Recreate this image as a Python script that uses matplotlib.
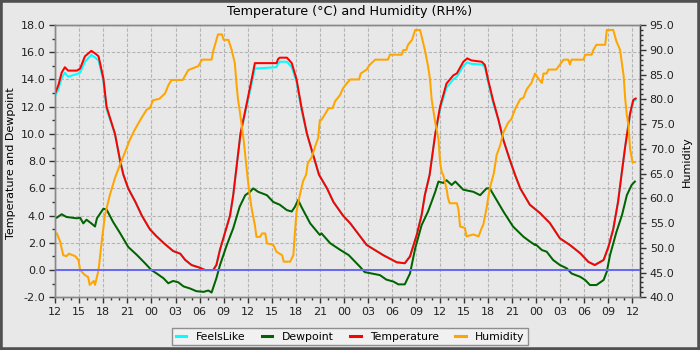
import matplotlib
matplotlib.use("Agg")
import matplotlib.pyplot as plt
from matplotlib.ticker import MultipleLocator, FuncFormatter
from matplotlib.patches import Rectangle

# hours since 12:00 on the first day
temp_hours = [0.0, 0.4, 0.8, 1.2, 1.6, 2.7, 3.1, 3.7, 4.5, 5.0, 5.4, 6.0, 6.4, 7.45, 8.1, 8.5,
              9.1, 10.0, 10.8, 11.8, 12.6, 13.5, 14.7, 15.6, 16.2, 17.0, 17.9, 18.7, 19.7, 20.1,
              20.55, 21.05, 21.8, 22.2, 22.7, 23.1, 23.8, 24.5, 24.9, 27.6, 27.8, 28.0, 28.9, 29.5,
              30.1, 30.7, 31.4, 32.4, 32.9, 33.9, 34.7, 35.9, 36.8, 38.85, 40.9, 42.6, 43.6, 44.25,
              45.1, 45.7, 46.1, 46.7, 47.4, 48.0, 48.8, 49.65, 50.1, 50.9, 51.4, 51.9, 53.2, 53.6,
              54.0, 54.6, 55.3, 55.9, 56.7, 57.35, 58.0, 59.2, 60.5, 61.7, 62.95, 64.2, 65.5, 66.5,
              67.3, 68.4, 69.0, 69.6, 70.2, 70.7, 71.1, 71.7, 72.1, 72.4]
temperature = [13.0, 13.6, 14.5, 14.9, 14.65, 14.65, 14.8, 15.7, 16.1, 15.9, 15.7, 14.1, 12.0, 10.0, 8.0, 7.0,
               6.0, 5.0, 4.0, 3.0, 2.5, 2.0, 1.4, 1.2, 0.75, 0.37, 0.2, 0.0, 0.0, 0.37,
               1.5, 2.5, 4.0, 5.5, 8.0, 10.0, 12.0, 14.0, 15.2, 15.2, 15.5, 15.6, 15.6, 15.2,
               14.0, 12.0, 10.0, 8.0, 7.0, 6.0, 5.0, 4.0, 3.43, 1.84, 1.1, 0.57, 0.5, 1.0,
               2.6, 4.05, 5.5, 7.0, 10.0, 12.0, 13.7, 14.3, 14.45, 15.3, 15.55, 15.4, 15.3, 15.06,
               13.96, 12.5, 11.0, 9.55, 8.1, 7.0, 6.0, 4.8, 4.17, 3.45, 2.33, 1.84, 1.23, 0.6,
               0.37, 0.74, 1.7, 3.0, 5.0, 7.3, 9.1, 11.5, 12.5, 12.6]
feelslike = [12.8, 13.3, 14.1, 14.5, 14.2, 14.4, 14.5, 15.3, 15.8, 15.6, 15.4, 13.9, 11.8, 10.0, 8.0, 7.0,
             6.0, 5.0, 4.0, 3.0, 2.5, 2.0, 1.4, 1.2, 0.75, 0.37, 0.2, 0.0, 0.0, 0.37,
             1.5, 2.5, 4.0, 5.5, 8.0, 10.0, 11.8, 13.7, 14.8, 14.9, 15.2, 15.3, 15.3, 14.9,
             13.8, 11.8, 10.0, 8.0, 7.0, 6.0, 5.0, 4.0, 3.43, 1.84, 1.1, 0.57, 0.5, 1.0,
             2.6, 4.05, 5.5, 7.0, 10.0, 11.8, 13.4, 14.0, 14.2, 15.0, 15.25, 15.15, 15.1, 14.9,
             13.8, 12.3, 11.0, 9.55, 8.1, 7.0, 6.0, 4.8, 4.17, 3.45, 2.33, 1.84, 1.23, 0.6,
             0.37, 0.74, 1.7, 3.0, 5.0, 7.3, 9.1, 11.4, 12.4, 12.5]

dew_hours = [0.2, 0.8, 1.4, 2.7, 3.1, 3.5, 3.9, 4.5, 4.96, 5.2, 6.0, 6.4, 7.2, 8.1, 9.1, 10.2, 11.2,
             12.0, 12.65, 13.5, 14.1, 14.7, 15.35, 16.0, 16.8, 17.6, 18.5, 19.1, 19.5, 20.1, 20.55,
             21.4, 22.2, 23.0, 23.7, 24.3, 24.7, 25.3, 26.4, 27.2, 28.0, 28.9, 29.5, 29.9, 30.3,
             30.7, 31.8, 33.0, 33.2, 34.3, 35.5, 36.6, 38.0, 38.6, 40.5, 41.3, 42.2, 42.8, 43.6,
             44.25, 44.9, 45.7, 46.5, 47.4, 47.8, 48.4, 48.8, 49.45, 49.9, 50.9, 52.15, 53.0, 53.8,
             54.2, 55.05, 55.9, 57.1, 58.4, 59.2, 59.85, 59.9, 60.7, 61.3, 62.1, 62.95, 63.8, 64.4,
             65.5, 66.1, 66.7, 67.5, 68.4, 68.8, 69.2, 70.0, 70.7, 71.3, 71.9, 72.3]
dewpoint = [3.85, 4.1, 3.9, 3.8, 3.85, 3.43, 3.7, 3.43, 3.2, 3.8, 4.5, 4.45, 3.55, 2.7, 1.7, 1.1, 0.5,
            0.0, -0.25, -0.6, -0.97, -0.8, -0.9, -1.2, -1.35, -1.55, -1.6, -1.5, -1.65, -0.6, 0.37,
            1.84, 3.07, 4.65, 5.5, 5.75, 6.0, 5.75, 5.5, 5.0, 4.8, 4.4, 4.3, 4.65, 5.15,
            4.65, 3.43, 2.58, 2.7, 1.97, 1.5, 1.1, 0.25, -0.15, -0.37, -0.7, -0.85, -1.05, -1.05,
            -0.25, 1.6, 3.3, 4.3, 5.75, 6.5, 6.4, 6.6, 6.25, 6.5, 5.9, 5.75, 5.5, 6.0,
            6.0, 5.15, 4.3, 3.2, 2.45, 2.1, 1.84, 1.9, 1.47, 1.35, 0.74, 0.37, 0.13, -0.25,
            -0.5, -0.73, -1.1, -1.1, -0.73, -0.12, 1.1, 2.8, 4.05, 5.5, 6.25, 6.5]

hum_hours = [0.2, 0.6, 1.0, 1.4, 1.7, 2.5, 2.9, 3.1, 3.7, 4.1, 4.3, 4.8, 4.96, 5.4, 5.8, 6.2, 6.8,
             7.45, 8.1, 8.7, 9.3, 9.9, 10.6, 11.4, 11.8, 12.2, 13.0, 13.7, 14.1, 14.5, 15.9, 16.6,
             17.85, 18.3, 19.5, 19.7, 20.3, 20.8, 21.0, 21.6, 22.0, 22.4, 22.6, 22.8, 23.0, 23.5,
             23.8, 23.95, 24.2, 24.5, 24.9, 25.1, 25.55, 25.8, 26.2, 26.4, 27.2, 27.6, 28.3, 28.5,
             29.3, 29.7, 29.9, 30.1, 30.5, 30.9, 31.3, 31.5, 32.0, 32.4, 32.8, 33.0, 33.2, 34.1,
             34.6, 34.9, 35.5, 35.9, 36.35, 36.8, 37.9, 38.1, 38.85, 39.2, 39.9, 41.5, 41.75, 43.2,
             43.4, 43.8, 44.0, 44.5, 44.9, 45.5, 45.7, 46.1, 46.5, 46.75, 46.95, 47.4, 47.8, 48.0,
             48.2, 48.4, 48.8, 49.0, 49.2, 50.1, 50.3, 50.5, 51.1, 51.3, 52.15, 52.8, 53.2, 53.4,
             53.8, 54.2, 54.7, 55.05, 55.5, 55.9, 56.5, 56.9, 57.35, 58.0, 58.4, 58.8, 59.4, 59.85,
             60.3, 60.7, 60.9, 61.3, 61.5, 62.5, 62.95, 63.4, 64.0, 64.2, 64.4, 65.9, 66.1, 66.9,
             67.1, 67.5, 68.6, 68.8, 69.6, 70.0, 70.45, 70.9, 71.1, 71.3, 71.5, 71.7, 72.0, 72.3]
humidity = [52.9, 51.3, 48.5, 48.3, 48.8, 48.3, 47.5, 45.5, 44.5, 44.1, 42.5, 43.3, 42.5, 45.5, 51.3, 56.6, 60.6,
            64.1, 66.9, 69.3, 71.8, 73.8, 75.8, 77.9, 78.2, 79.8, 80.1, 81.2, 82.8, 83.9, 83.9, 85.9,
            86.7, 88.0, 88.0, 89.7, 93.1, 93.1, 92.0, 92.0, 90.0, 87.3, 83.2, 79.9, 77.8, 71.8,
            67.1, 64.8, 61.3, 57.9, 54.6, 52.2, 52.2, 52.9, 52.9, 50.9, 50.6, 49.2, 48.5, 47.2,
            47.2, 48.5, 53.2, 57.3, 60.6, 63.4, 64.8, 67.1, 68.3, 70.4, 72.2, 75.8, 75.8, 78.2,
            78.2, 79.6, 80.8, 82.2, 83.2, 84.0, 84.0, 85.2, 86.0, 86.9, 88.0, 88.0, 89.0, 89.0,
            89.9, 90.0, 91.0, 92.0, 94.0, 94.0, 92.7, 90.0, 86.7, 84.0, 80.0, 75.3, 72.0, 67.3,
            65.3, 64.7, 62.0, 60.0, 59.0, 59.0, 57.7, 54.3, 54.0, 52.3, 52.7, 52.3, 54.0, 54.7,
            58.0, 62.0, 65.0, 68.7, 70.7, 73.3, 75.3, 76.0, 78.0, 80.0, 80.3, 82.0, 83.3, 85.2,
            84.1, 83.3, 85.2, 85.2, 86.0, 86.0, 87.0, 88.0, 88.0, 87.0, 88.0, 88.0, 89.0, 89.0,
            89.9, 91.0, 91.0, 94.0, 94.0, 91.7, 90.0, 84.7, 80.0, 76.7, 74.7, 70.0, 67.3, 67.3]

BG = '#e8e8e8'
LW = 1.45

fig = plt.figure(figsize=(7, 3.5), dpi=100, facecolor=BG)
ax = fig.add_axes([55.25 / 700, 1 - 297.3 / 350, (640 - 55.25) / 700, (297.3 - 25) / 350])
ax.set_facecolor(BG)
ax2 = ax.twinx()

ax.plot(temp_hours, feelslike, color='#00ffff', lw=LW, zorder=3)
ax.plot(dew_hours, dewpoint, color='#006400', lw=LW, zorder=3)
ax.plot(temp_hours, temperature, color='#ff0000', lw=LW, zorder=4)
ax2.plot(hum_hours, humidity, color='#ffa500', lw=LW, zorder=2)
ax2.axhline(45.5, color='#6a6af2', lw=LW, zorder=5)

ax.set_xlim(0, 72.94)
ax.set_ylim(-2, 18)
ax2.set_ylim(40, 95)

ax.xaxis.set_major_locator(MultipleLocator(3))
ax.xaxis.set_minor_locator(MultipleLocator(1))
ax.xaxis.set_major_formatter(FuncFormatter(lambda v, p: "%02d" % ((12 + int(round(v))) % 24)))
ax.yaxis.set_major_locator(MultipleLocator(2))
ax.yaxis.set_minor_locator(MultipleLocator(1))
ax.yaxis.set_major_formatter(FuncFormatter(lambda v, p: "%.1f" % v))
ax2.yaxis.set_major_locator(MultipleLocator(5))
ax2.yaxis.set_minor_locator(MultipleLocator(1))
ax2.yaxis.set_major_formatter(FuncFormatter(lambda v, p: "%.1f" % v))

ax.grid(True, which='major', color='#b4b4b4', linestyle=(0, (3, 1.6)), linewidth=0.8)
ax.set_axisbelow(True)

for a in (ax, ax2):
    for s in a.spines.values():
        s.set_color('#888888')
        s.set_linewidth(1)
    a.tick_params(which='major', length=4, width=1, color='#333333', labelsize=8, labelcolor='#222222', pad=3)
    a.tick_params(which='minor', length=2, width=1, color='#333333')
ax2.spines['right'].set_color('#333333')

ax.set_ylabel("Temperature and Dewpoint", fontsize=8)
ax.yaxis.set_label_coords((16 - 55.25) / 584.75, 0.493)
ax2.set_ylabel("Humidity", fontsize=8)
ax2.yaxis.set_label_coords((682 - 55.25) / 584.75, 0.497)
fig.text(350 / 700, 1 - 12 / 350, "Temperature (°C) and Humidity (RH%)", ha='center', va='center', fontsize=9.2)

handles = [plt.Line2D([], [], color=c, lw=2.2) for c in ('#00ffff', '#006400', '#ff0000', '#ffa500')]
leg = fig.legend(handles, ['FeelsLike', 'Dewpoint', 'Temperature', 'Humidity'], loc='center',
                 bbox_to_anchor=(350 / 700, 1 - 336.5 / 350), ncol=4, fontsize=7.8, frameon=True,
                 fancybox=False, handlelength=1.0, handletextpad=0.85, columnspacing=1.5,
                 borderpad=0.35, borderaxespad=0)
leg.get_frame().set_facecolor('#f4f4f4')
leg.get_frame().set_edgecolor('#777777')

fig.patches.append(Rectangle((0, 0), 1, 1, transform=fig.transFigure, fill=False,
                             edgecolor='#505050', linewidth=4, zorder=10))

fig.savefig("out.png", dpi=100, facecolor=BG)
